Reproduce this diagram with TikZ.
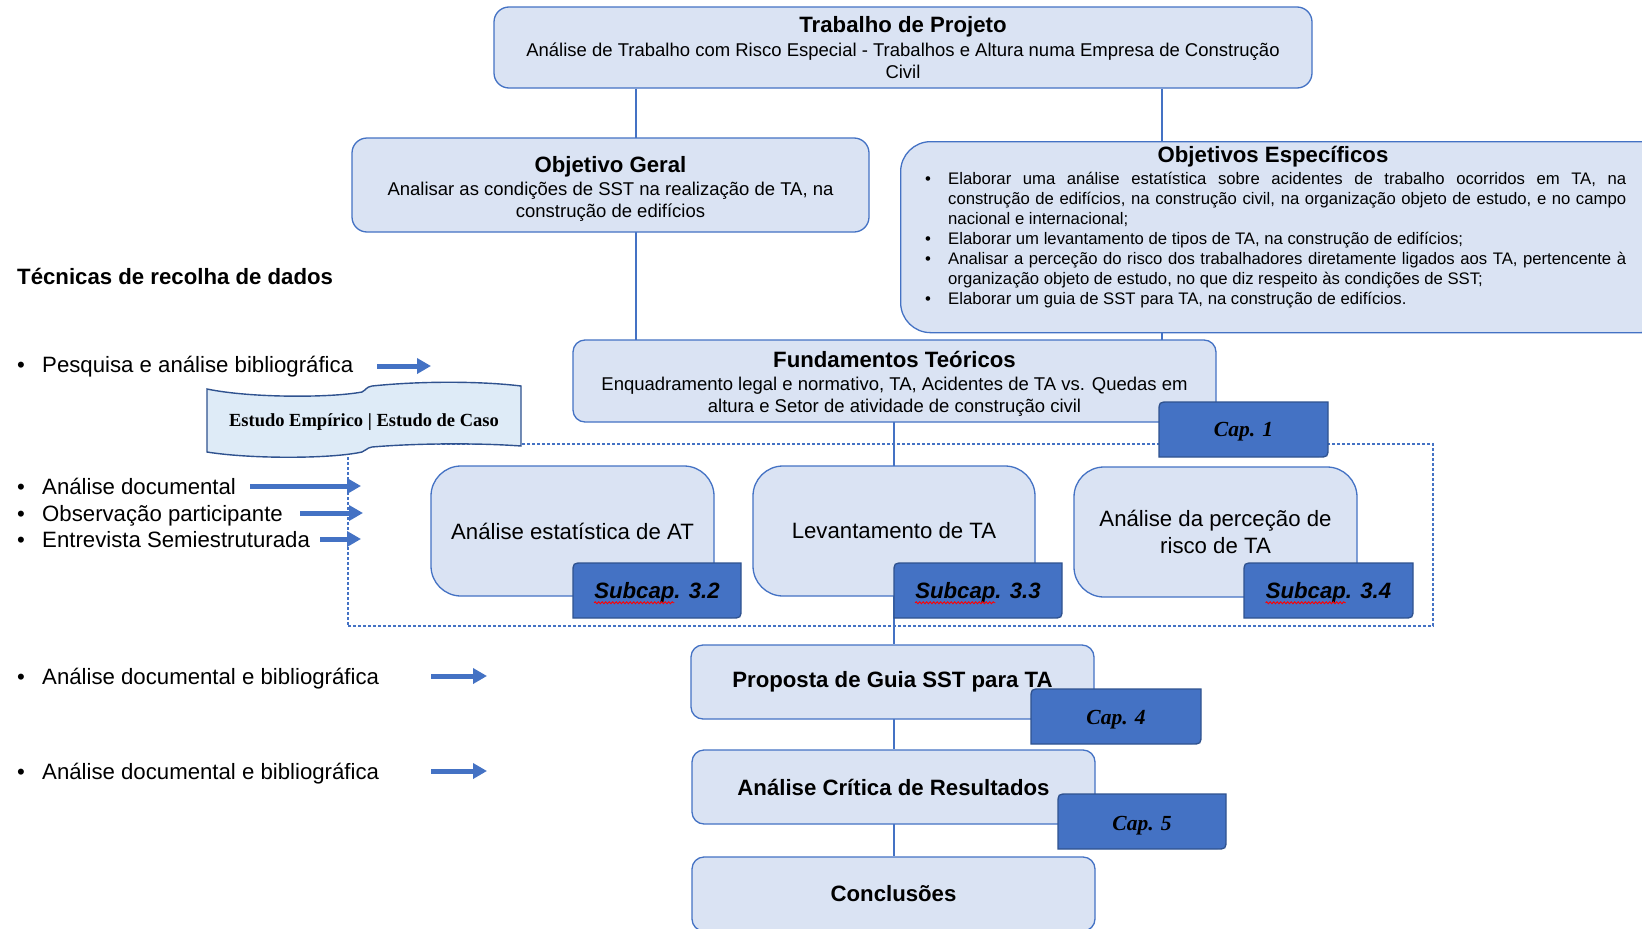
\documentclass[tikz,border=0pt]{standalone}
\usepackage{fontspec}
\setmainfont{Liberation Sans}
\newfontfamily\tnr{Liberation Serif}
\usetikzlibrary{arrows.meta,calc,decorations.pathmorphing}
\definecolor{acc}{HTML}{4472C4}
\definecolor{accd}{HTML}{2F528F}
\definecolor{lite}{HTML}{DAE3F3}
\definecolor{ban}{HTML}{DEEBF7}
\newlength\subw
\AtBeginDocument{\settowidth\subw{\bfseries\itshape\fontsize{22.2}{26}\selectfont Subcap}}
\newcommand\oeitem{\hangindent=23pt\hangafter=1\noindent\makebox[23pt][l]{\textbullet}}
\newcommand\capshape[4]{\draw[capfill] (#1,#4) -- (#1,#2+10) .. controls (#1,#2) .. (#1+10,#2) -- (#3,#2) -- (#3,#4-10) .. controls (#3,#4) .. (#3-10,#4) -- cycle;}
\tikzset{
 box/.style={draw=acc, fill=lite, line width=1.3pt, align=center, inner sep=0pt},
 conn/.style={draw=acc, line width=1.3pt},
 capfill/.style={fill=acc, draw=accd, line width=1.3pt},
 captext/.style={font=\tnr\bfseries\itshape\fontsize{21.5}{26}\selectfont, text=black, inner sep=0pt},
 subtext/.style={font=\bfseries\itshape\fontsize{22.2}{26}\selectfont, text=black, inner sep=0pt},
 wavy/.style={draw=red, line width=0.9pt, decorate, decoration={snake, amplitude=1pt, segment length=3.5pt}},
 bigarrow/.style={draw=acc, line width=5pt, -{Triangle[length=14pt,width=15pt]}},
 ltext/.style={anchor=base west, font=\fontsize{22.2}{26}\selectfont, inner sep=0pt},
 ttl/.style={font=\bfseries\fontsize{22.2}{26}\selectfont},
 small/.style={font=\fontsize{18.5}{22}\selectfont},
}
\newcommand\ttlline[1]{{\bfseries\fontsize{22.2}{26}\selectfont #1}}
\begin{document}
\begin{tikzpicture}[x=1pt,y=-1pt]
\useasboundingbox (0,0) rectangle (1642,929);
\fill[white] (0,0) rectangle (1642,929);

% ---------- top box ----------
\node[box, small, rounded corners=15pt, minimum width=818pt, minimum height=81pt] (top) at (903,47.5)
  {\ttlline{Trabalho de Projeto}\\[2pt]Análise de Trabalho com Risco Especial - Trabalhos e Altura numa Empresa de Construção\\Civil};

% dashed group frame
\node[inner sep=0pt, minimum width=1085pt, minimum height=182pt, draw=acc, line width=1.2pt, dash pattern=on 3pt off 2pt] (grp) at (890.5,535) {};

% ---------- connectors ----------
\draw[conn] (top.south -| 636,0) -- (636,138);
\draw[conn] (top.south -| 1162,0) -- (1162,340);
\draw[conn] (636,232) -- (636,340);
\draw[conn] (894,422) -- (894,644);
\draw[conn] (894,718) -- (894,749);
\draw[conn] (894,823) -- (894,856);

% ---------- objectives ----------
\node[box, rounded corners=15pt, minimum width=517pt, minimum height=94pt] (og) at (610.5,185) {};
\node[small, align=center, inner sep=0pt] (ogt) at (610.5,188.5)
  {\ttlline{Objetivo Geral}\\[1pt]Analisar as condições de SST na realização de TA, na\\construção de edifícios};

\node[box, rounded corners=30pt, minimum width=770pt, minimum height=191pt, anchor=north west] (oe) at (900,141) {};
\node[ttl, inner sep=0pt] (oet) at (1273,157) {Objetivos Específicos};
\node[anchor=north west, text width=701pt, align=justify, inner sep=0pt, font=\fontsize{16.7}{20}\selectfont] (oel) at (925,172.5) {%
\oeitem Elaborar uma análise estatística sobre acidentes de trabalho ocorridos em TA, na\linebreak construção de edifícios, na construção civil, na organização objeto de estudo, e no campo\linebreak nacional e internacional;\par
\oeitem Elaborar um levantamento de tipos de TA, na construção de edifícios;\par
\oeitem Analisar a perceção do risco dos trabalhadores diretamente ligados aos TA, pertencente à\linebreak organização objeto de estudo, no que diz respeito às condições de SST;\par
\oeitem Elaborar um guia de SST para TA, na construção de edifícios.};

% ---------- fundamentos ----------
\node[box, rounded corners=12pt, minimum width=643pt, minimum height=82pt] (fu) at (894.5,381) {};
\node[small, align=center, inner sep=0pt] (fut) at (894.5,384)
  {\ttlline{Fundamentos Teóricos}\\[1pt]Enquadramento legal e normativo, TA, Acidentes de TA vs. Quedas em\\altura e Setor de atividade de construção civil};
\capshape{1159}{402}{1328}{457}
\node[captext] (c1) at (1243.5,432) {Cap. 1};

% ---------- three study boxes ----------
\node[box, rounded corners=30pt, minimum width=283pt, minimum height=130pt, font=\fontsize{22.2}{26}\selectfont] (b1) at (572.5,531) {Análise estatística de AT};
\node[box, rounded corners=30pt, minimum width=282pt, minimum height=130pt, font=\fontsize{22.2}{26}\selectfont] (b2) at (894,531) {Levantamento de TA};
\node[box, rounded corners=30pt, minimum width=283pt, minimum height=130pt, font=\fontsize{22.2}{27}\selectfont] (b3) at (1215.5,532) {Análise da perceção de\\risco de TA};

\capshape{573}{563}{741}{618}
\node[subtext] (s32) at (657,593) {Subcap. 3.2};
\draw[wavy] ([yshift=-4pt]s32.base west) -- ++(\subw,0);
\capshape{894}{563}{1062}{618}
\node[subtext] (s33) at (978,593) {Subcap. 3.3};
\draw[wavy] ([yshift=-4pt]s33.base west) -- ++(\subw,0);
\capshape{1244}{563}{1413}{618}
\node[subtext] (s34) at (1328.5,593) {Subcap. 3.4};
\draw[wavy] ([yshift=-4pt]s34.base west) -- ++(\subw,0);

% ---------- banner ----------
\draw[fill=ban, draw=accd, line width=1.4pt]
  (207,389) .. controls (250,398) and (330,398) .. (362,392)
  .. controls (366,390) and (366,387) .. (372,386)
  .. controls (420,381) and (480,381) .. (521,386)
  -- (521,446)
  .. controls (480,443) and (420,443) .. (372,447)
  .. controls (366,448) and (366,451) .. (362,452)
  .. controls (330,459) and (250,459) .. (207,452) -- cycle;
\node[font=\tnr\bfseries\fontsize{18.5}{22}\selectfont, inner sep=0pt] (ban) at (364,422) {Estudo Empírico | Estudo de Caso};

% ---------- lower chain ----------
\node[box, rounded corners=12pt, minimum width=403pt, minimum height=74pt, ttl] (pr) at (892.5,682) {Proposta de Guia SST para TA};
\capshape{1031}{689}{1201}{744}
\node[captext] (c4) at (1116,720) {Cap. 4};
\node[box, rounded corners=12pt, minimum width=403pt, minimum height=74pt, ttl] (cr) at (893.5,787) {Análise Crítica de Resultados};
\capshape{1058}{794}{1226}{849}
\node[captext] (c5) at (1142,826) {Cap. 5};
\node[box, rounded corners=12pt, minimum width=403pt, minimum height=74pt, ttl] (co) at (893.5,894) {Conclusões};

% ---------- left column ----------
\node[ltext, font=\bfseries\fontsize{22.2}{26}\selectfont] (tec) at (17,284) {Técnicas de recolha de dados};
\node[ltext] (l1) at (17,372) {\makebox[25pt][l]{\textbullet}Pesquisa e análise bibliográfica};
\node[ltext] (l2) at (17,494) {\makebox[25pt][l]{\textbullet}Análise documental};
\node[ltext] (l3) at (17,521) {\makebox[25pt][l]{\textbullet}Observação participante};
\node[ltext] (l4) at (17,547) {\makebox[25pt][l]{\textbullet}Entrevista Semiestruturada};
\node[ltext] (l5) at (17,684) {\makebox[25pt][l]{\textbullet}Análise documental e bibliográfica};
\node[ltext] (l6) at (17,779) {\makebox[25pt][l]{\textbullet}Análise documental e bibliográfica};

\coordinate (a1s) at (377,366); \coordinate (a1e) at (431,366);
\coordinate (a2s) at (250,486); \coordinate (a2e) at (361,486);
\coordinate (a3s) at (300,513); \coordinate (a3e) at (363,513);
\coordinate (a4s) at (320,539); \coordinate (a4e) at (361,539);
\coordinate (a5s) at (431,676); \coordinate (a5e) at (487,676);
\coordinate (a6s) at (431,771); \coordinate (a6e) at (487,771);
\foreach \i in {1,...,6} {\draw[bigarrow] (a\i s) -- (a\i e);}
\end{tikzpicture}
\end{document}
